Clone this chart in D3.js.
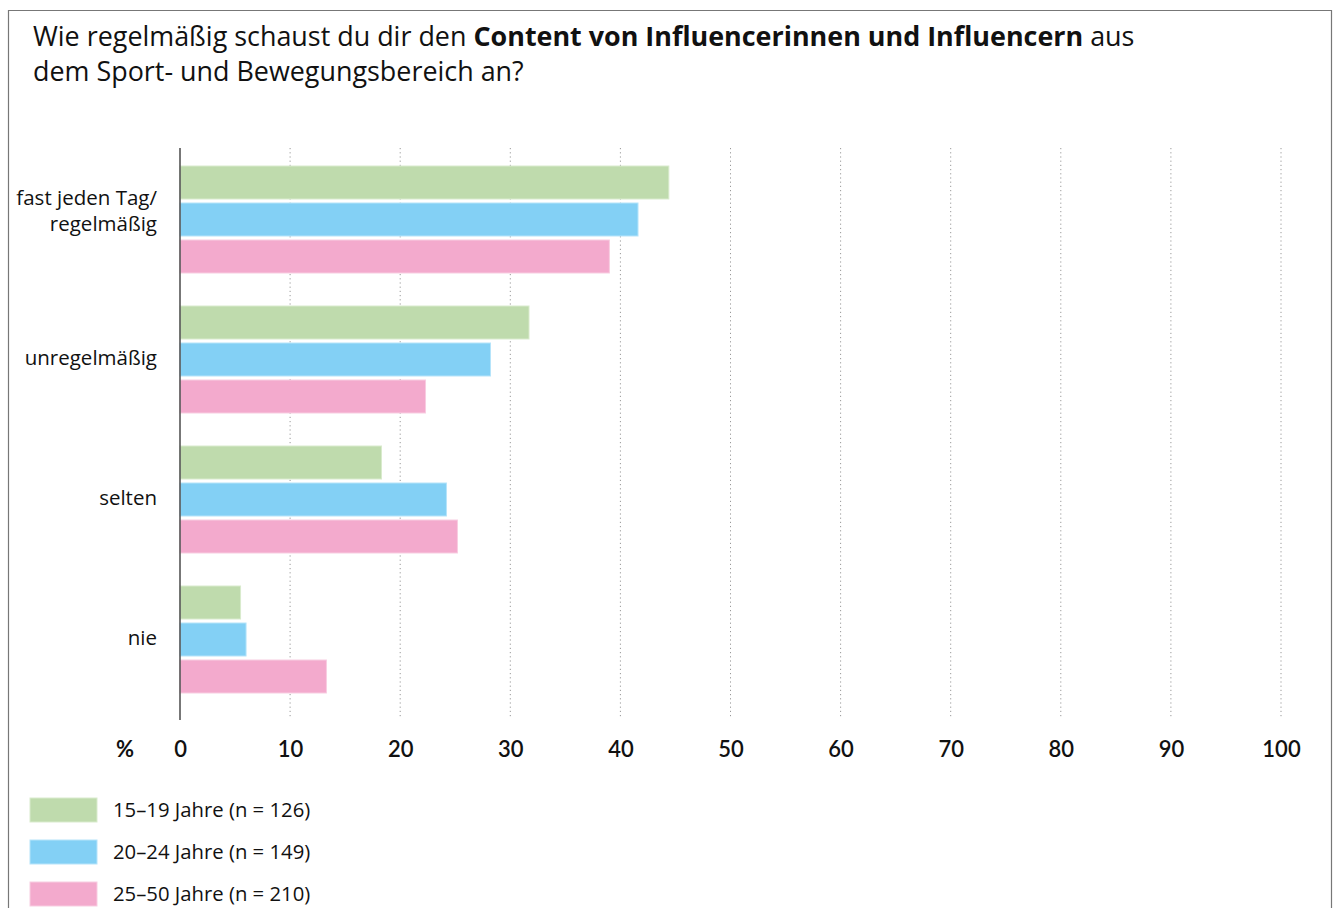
<!DOCTYPE html>
<html><head><meta charset="utf-8">
<script src="https://cdn.jsdelivr.net/npm/d3@7"></script>
<style>
body{margin:0;background:#fff;}
svg{display:block;font-family:"Open Sans", Lato, sans-serif;}
</style></head><body>
<svg id="c" width="1334" height="908"></svg>
<script>
const categories = ["fast jeden Tag/\nregelmäßig", "unregelmäßig", "selten", "nie"];
const seriesNames = ["15–19 Jahre (n = 126)", "20–24 Jahre (n = 149)", "25–50 Jahre (n = 210)"];
const s1519 = [44.4, 31.7, 18.3, 5.5];
const s2024 = [41.6, 28.2, 24.2, 6.0];
const s2550 = [39.0, 22.3, 25.2, 13.3];
const seriesValues = [s1519, s2024, s2550];
const colors = ["#bfdbad", "#83d0f5", "#f3aacd"];
const strokes = ["#d9ebcd", "#b6e4fa", "#f8cde1"];
const xTicks = [0,10,20,30,40,50,60,70,80,90,100];

const svg = d3.select("#c");
svg.append("path").attr("d","M8.5,908 V10.5 H1331.5 V908").attr("fill","none").attr("stroke","#777").attr("stroke-width",1.2);

// title
const t = svg.append("text").attr("x",33).attr("y",46).attr("font-size",26).attr("fill","#111");
t.append("tspan").text("Wie regelmäßig schaust du dir den ");
t.append("tspan").attr("font-weight","bold").text("Content von Influencerinnen und Influencern");
t.append("tspan").text(" aus");
const t2 = svg.append("text").attr("x",33).attr("y",81).attr("font-size",26).attr("fill","#111").text("dem Sport- und Bewegungsbereich an?");
const w = t.node().getComputedTextLength();
const fs = 26 * 1102 / w;
t.attr("font-size", fs); t2.attr("font-size", fs);

const x = d3.scaleLinear().domain([0,100]).range([180,1281]);
const y0 = d3.scaleBand().domain(categories).range([149.5,709.5]).paddingInner(33/140).paddingOuter(33/280);
const y1 = d3.scaleBand().domain(d3.range(3)).range([0,y0.bandwidth()]).paddingInner(4/37);

const grid = svg.append("g");
xTicks.filter(d=>d>0).forEach(d=>{
  grid.append("line").attr("x1",x(d)).attr("x2",x(d)).attr("y1",148).attr("y2",718)
    .attr("stroke","#999").attr("stroke-width",1).attr("stroke-dasharray","1.2,3");
});

categories.forEach((c,ci)=>{
  seriesValues.forEach((vals,si)=>{
    svg.append("rect").attr("x",x(0)).attr("y",y0(c)+y1(si))
      .attr("width",x(vals[ci])-x(0)).attr("height",y1.bandwidth())
      .attr("fill",colors[si]).attr("stroke",strokes[si]).attr("stroke-width",1);
  });
});

svg.append("line").attr("x1",180).attr("x2",180).attr("y1",148).attr("y2",720).attr("stroke","#555").attr("stroke-width",1.6);

categories.forEach(c=>{
  const lines = c.split("\n");
  const cy = y0(c)+y0.bandwidth()/2 - (lines.length>1 ? 9 : 1.5);
  const lh = 26;
  const txt = svg.append("text").attr("text-anchor","end").attr("font-size",20.5).attr("font-weight",500).attr("fill","#111");
  lines.forEach((l,i)=>{
    txt.append("tspan").attr("x",157).attr("y",cy + (i-(lines.length-1)/2)*lh).attr("dy","0.35em").text(l);
  });
});

const xa = d3.axisBottom(x).tickValues(xTicks).tickSize(0).tickPadding(0);
const ga = svg.append("g").attr("transform","translate(0,741)").call(xa);
ga.select(".domain").remove();
ga.selectAll("text").attr("font-size",22).attr("font-family","Lato, sans-serif").attr("font-weight","600").attr("fill","#111").attr("dy","0.71em");
svg.append("text").attr("x",125).attr("y",757).attr("text-anchor","middle").attr("font-size",22).attr("font-family","Lato, sans-serif").attr("font-weight","bold").attr("fill","#111").text("%");

seriesNames.forEach((n,i)=>{
  const ly = 798 + i*42;
  svg.append("rect").attr("x",30).attr("y",ly).attr("width",67).attr("height",24).attr("fill",colors[i]).attr("stroke",strokes[i]);
  svg.append("text").attr("x",113).attr("y",ly+12).attr("dy","0.35em").attr("font-size",20.3).attr("fill","#111").text(n);
});
</script>
</body></html>
